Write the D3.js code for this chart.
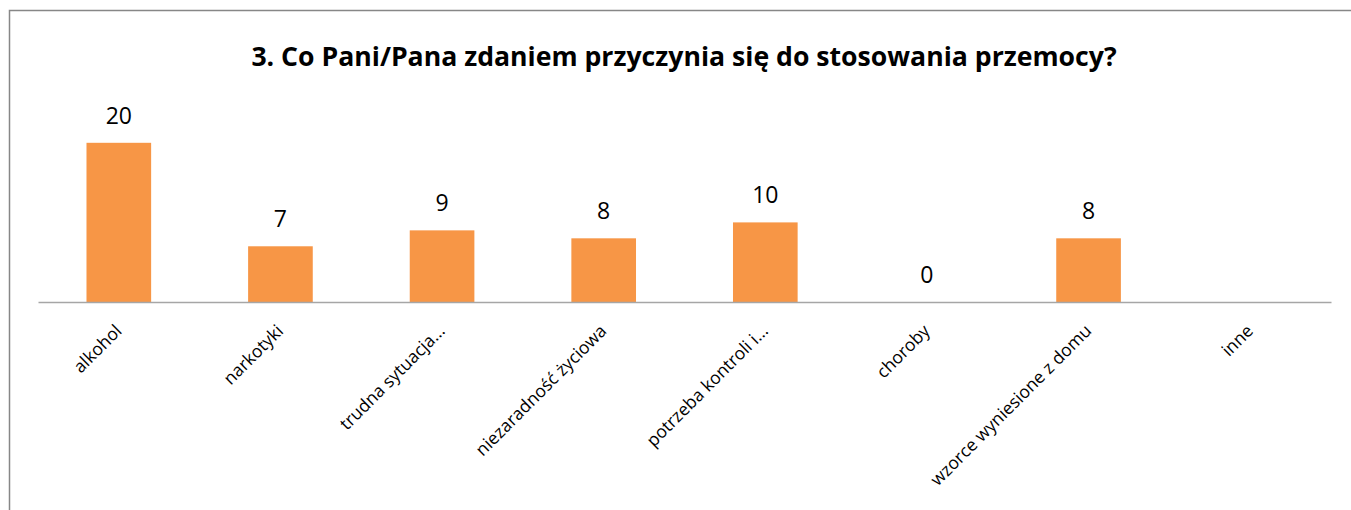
<!DOCTYPE html>
<html>
<head>
<meta charset="utf-8">
<script src="https://cdn.jsdelivr.net/npm/d3@7"></script>
<style>
  body { margin: 0; background: #fff; }
  svg { display: block; }
</style>
</head>
<body>
<div id="chart"></div>
<script>
const title = "3. Co Pani/Pana zdaniem przyczynia się do stosowania przemocy?";
const categories = ["alkohol", "narkotyki", "trudna sytuacja...", "niezaradność życiowa",
    "potrzeba kontroli i...", "choroby", "wzorce wyniesione z domu", "inne"];
const values = [20, 7, 9, 8, 10, 0, 8, null];

const width = 1351, height = 510;
const font = "'Open Sans', 'Noto Sans', sans-serif";

const svg = d3.select("#chart").append("svg")
    .attr("width", width)
    .attr("height", height);

// chart frame (runs off the page on the right and bottom)
svg.append("rect")
    .attr("x", 9.5).attr("y", 10.5)
    .attr("width", 1400).attr("height", 600)
    .attr("fill", "none")
    .attr("stroke", "#878787")
    .attr("stroke-width", 1.5);

// set the ranges
const x = d3.scaleBand().domain(categories).range([38, 1331]).padding(0);
const y = d3.scaleLinear().domain([0, 25]).range([302, 103]);
const barW = x.bandwidth() * 0.4;

const data = categories.map((c, i) => ({ cat: c, value: values[i] }));

// bars
svg.selectAll(".bar")
    .data(data.filter(d => d.value !== null))
    .enter()
    .append("rect")
    .attr("class", "bar")
    .attr("x", d => x(d.cat) + (x.bandwidth() - barW) / 2)
    .attr("y", d => y(d.value))
    .attr("width", barW)
    .attr("height", d => y(0) - y(d.value))
    .attr("fill", "#F79646");

// data labels
svg.selectAll(".lbl")
    .data(data.filter(d => d.value !== null))
    .enter()
    .append("text")
    .attr("class", "lbl")
    .attr("x", d => x(d.cat) + x.bandwidth() / 2)
    .attr("y", d => y(d.value) - 19)
    .attr("text-anchor", "middle")
    .style("font-family", font)
    .style("font-size", "23px")
    .style("fill", "#000")
    .text(d => d.value);

// x axis
const xAxis = svg.append("g")
    .attr("transform", "translate(0," + y(0) + ")")
    .call(d3.axisBottom(x).tickSize(0).tickPadding(0));
xAxis.select(".domain").attr("stroke", "#a6a6a6").attr("stroke-width", 1.5);
xAxis.selectAll(".tick text")
    .attr("text-anchor", "end")
    .attr("dy", 0)
    .attr("transform", "translate(4,30) rotate(-45)")
    .style("font-family", font)
    .style("font-size", "17.5px")
    .style("fill", "#000");

// title
const t = svg.append("text")
    .attr("x", 684)
    .attr("y", 66)
    .attr("text-anchor", "middle")
    .style("font-family", font)
    .style("font-weight", "bold")
    .style("font-size", "24px")
    .style("fill", "#000")
    .text(title);
// fit the title to the width it has in the reference
const tw = t.node().getComputedTextLength();
t.style("font-size", (24 * 866 / tw) + "px");
</script>
</body>
</html>
